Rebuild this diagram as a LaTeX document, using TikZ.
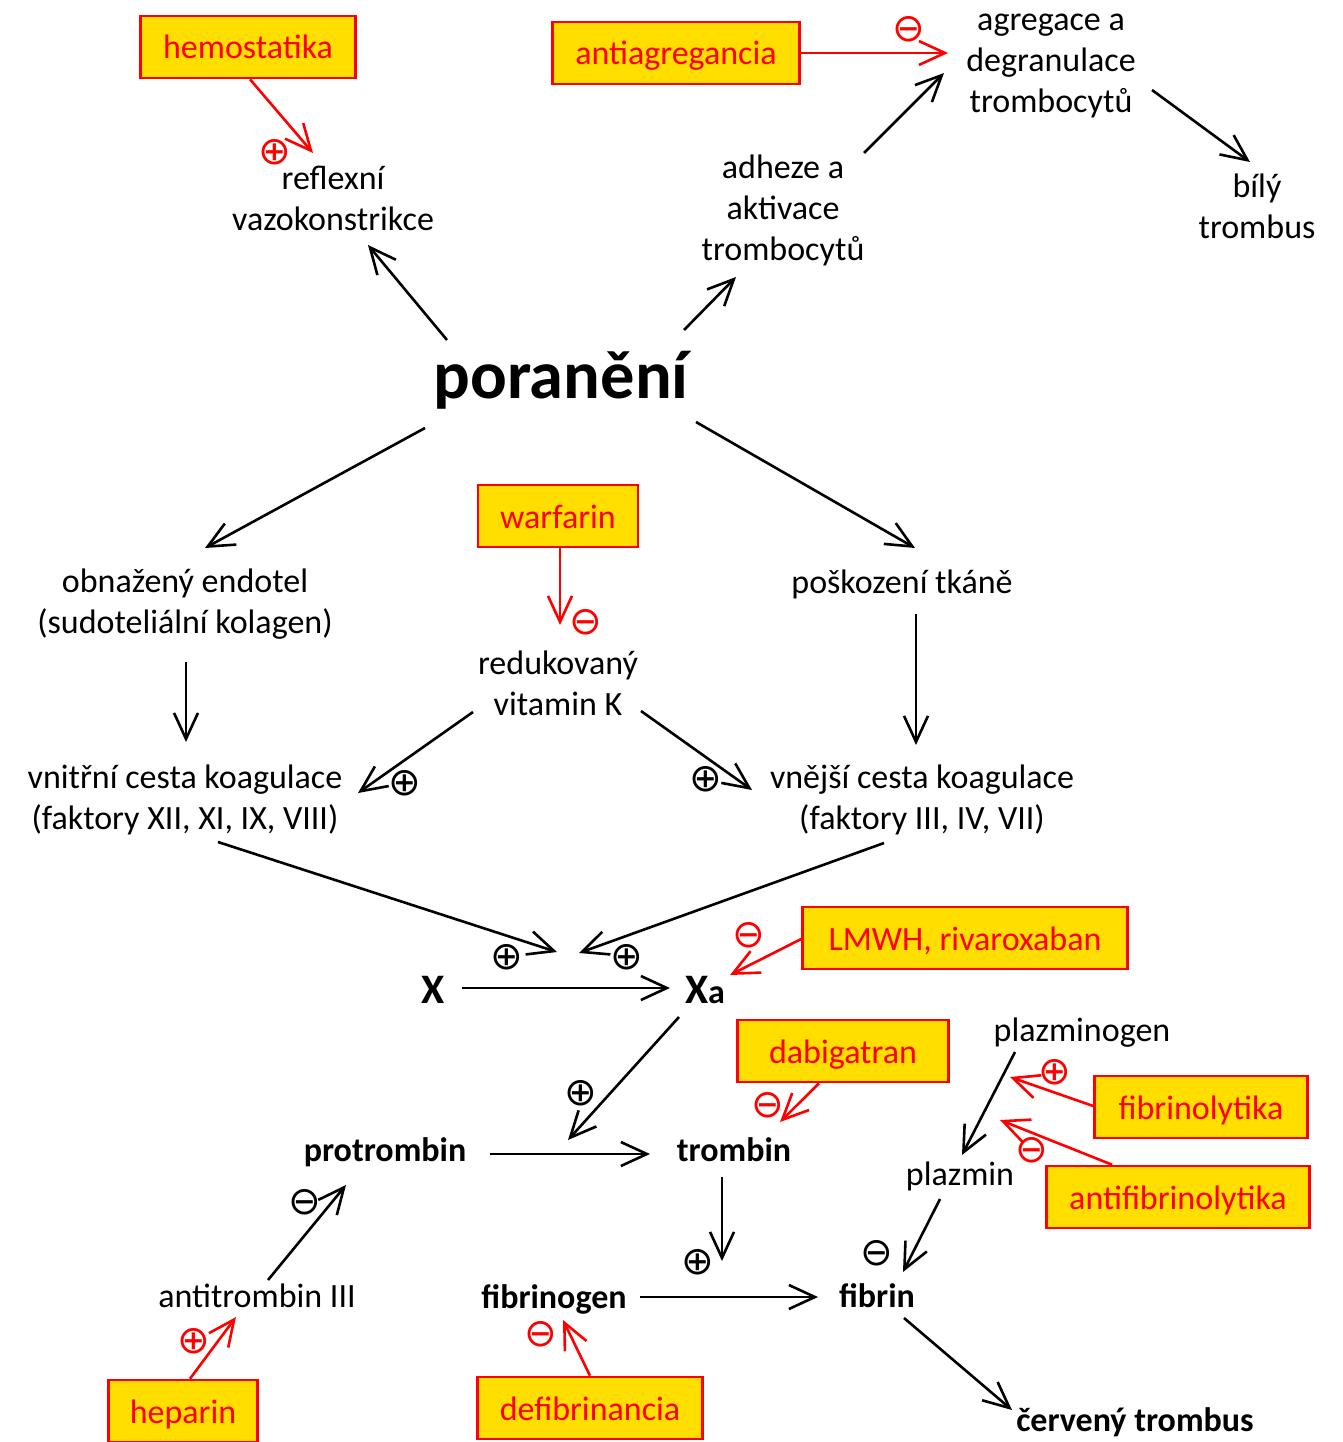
\documentclass[tikz,border=0pt]{standalone}
\usepackage{fontspec}
\setmainfont{Carlito}
\newfontfamily\symfont{DejaVu Sans}
\usetikzlibrary{arrows.meta,calc}
\definecolor{boxyellow}{RGB}{255,222,0}
\definecolor{boxred}{RGB}{255,0,0}
\begin{document}
\begin{tikzpicture}[x=1pt,y=-1pt,
  lbl/.style={align=center,font=\fontsize{34}{41}\selectfont,inner sep=0pt},
  blbl/.style={align=center,font=\fontsize{34}{41}\selectfont\bfseries,inner sep=0pt},
  drug/.style={draw=boxred,line width=2.6pt,fill=boxyellow,text=boxred,
    font=\fontsize{34}{41}\selectfont,minimum height=62pt,inner sep=0pt,
    text height=24pt,text depth=0pt},
  arr/.style={line width=2.6pt,-{Straight Barb[length=26pt,width=24pt]}},
  rarr/.style={arr,draw=boxred},
  sgn/.style={font=\symfont\fontsize{39}{39}\selectfont,inner sep=0pt},
  rsgn/.style={sgn,text=boxred}]
\useasboundingbox (0,0) rectangle (1342,1442);

% text nodes
\node[lbl] (refl) at (333,198) {reflexní\\vazokonstrikce};
\node[lbl] (adh) at (783,210) {adheze a\\aktivace\\trombocytů};
\node[lbl] (agr) at (1051,66) {agregace a\\degranulace\\trombocytů};
\node[lbl] (bily) at (1257,206) {bílý\\trombus};
\node[inner sep=0pt,font=\fontsize{68.5}{80}\selectfont\bfseries] (por) at (561,380) {poranění};
\node[lbl] (obn) at (185,604) {obnažený endotel\\(sudoteliální kolagen)};
\node[lbl] (posk) at (902,584) {poškození tkáně};
\node[lbl] (red) at (558,683) {redukovaný\\vitamin K};
\node[lbl] (vnitr) at (185,800) {vnitřní cesta koagulace\\(faktory XII, XI, IX, VIII)};
\node[lbl] (vnej) at (922,800) {vnější cesta koagulace\\(faktory III, IV, VII)};
\node[inner sep=0pt,font=\fontsize{42}{50}\selectfont\bfseries] (X) at (433,990) {X};
\node[inner sep=0pt,font=\fontsize{42}{50}\selectfont\bfseries] (Xa) at (705,990) {X{\fontsize{34}{41}\selectfont a}};
\node[blbl] (protr) at (385,1152) {protrombin};
\node[blbl] (tromb) at (734,1150) {trombin};
\node[lbl] (plg) at (1082,1033) {plazminogen};
\node[lbl] (plm) at (960,1176) {plazmin};
\node[lbl] (at3) at (257,1296) {antitrombin III};
\node[blbl] (fbg) at (554,1299) {fibrinogen};
\node[blbl] (fbn) at (877,1296) {fibrin};
\node[blbl] (cerv) at (1135,1422) {červený trombus};

% drug boxes
\node[drug,minimum width=215pt] (hemo) at (248,47) {hemostatika};
\node[drug,minimum width=247pt] (antiag) at (676,53) {antiagregancia};
\node[drug,minimum width=160pt] (warf) at (558,516) {warfarin};
\node[drug,minimum width=325pt] (lmwh) at (965,938) {LMWH, rivaroxaban};
\node[drug,minimum width=211pt] (dabi) at (843,1051) {dabigatran};
\node[drug,minimum width=213pt] (fibl) at (1201,1107) {fibrinolytika};
\node[drug,minimum width=263pt] (antifib) at (1178,1197) {antifibrinolytika};
\node[drug,minimum width=149pt] (hep) at (183,1411) {heparin};
\node[drug,minimum width=225pt] (defib) at (590,1408) {defibrinancia};

% free ends
\coordinate (conv1) at (557,952);
\coordinate (conv2) at (579,953);
\coordinate (ptarr) at (568,1140);
\coordinate (fbarr) at (722,1261);
\coordinate (plgarr1) at (1010,1077);
\coordinate (plgarr2) at (1000,1120);

% black arrows
\draw[arr] ($(por)+(-114,-40)$) -- ($(refl)+(35,47)$);
\draw[arr] ($(por)+(123,-50)$) -- ($(adh)+(-47,67)$);
\draw[arr] ($(adh)+(81,-57)$) -- ($(agr)+(-107,7)$);
\draw[arr] ($(agr)+(101,24)$) -- ($(bily)+(-7,-44)$);
\draw[arr] ($(por)+(-136,48)$) -- ($(obn)+(20,-56)$);
\draw[arr] ($(por)+(135,42)$) -- ($(posk)+(13,-36)$);
\draw[arr] ($(obn)+(1,58)$) -- ($(vnitr)+(1,-58)$);
\draw[arr] ($(posk)+(14,30)$) -- ($(vnej)+(-6,-55)$);
\draw[arr] ($(red)+(-85,29)$) -- ($(vnitr)+(173,-7)$);
\draw[arr] ($(red)+(83,28)$) -- ($(vnej)+(-170,-10)$);
\draw[arr] ($(vnitr)+(33,42)$) -- (conv1);
\draw[arr] ($(vnej)+(-38,43)$) -- (conv2);
\draw[arr] ($(X)+(29,-2)$) -- ($(Xa)+(-35,-2)$);
\draw[arr] ($(Xa)+(-26,27)$) -- (ptarr);
\draw[arr] ($(protr)+(105,2)$) -- ($(tromb)+(-84,4)$);
\draw[arr] ($(tromb)+(-12,27)$) -- (fbarr);
\draw[arr] ($(fbg)+(86,-2)$) -- ($(fbn)+(-59,1)$);
\draw[arr] ($(fbn)+(27,22)$) -- ($(cerv)+(-123,-12)$);
\draw[arr] ($(plg)+(-67,19)$) -- ($(plm)+(2,-21)$);
\draw[arr] ($(plm)+(-20,23)$) -- ($(fbn)+(26,-24)$);
\draw[arr] ($(at3)+(11,-16)$) -- ($(protr)+(-39,33)$);

% red arrows
\draw[rarr] ($(hemo.south)+(2,0)$) -- ($(refl)+(-20,-45)$);
\draw[rarr] (antiag.east) -- ($(agr)+(-103,-13)$);
\draw[rarr] ($(warf.south)+(2,0)$) -- ($(red)+(2,-58)$);
\draw[rarr] ($(lmwh.west)+(0,1)$) -- ($(Xa)+(25,-15)$);
\draw[rarr] ($(dabi.south)+(-24,0)$) -- ($(tromb)+(46,-28)$);
\draw[rarr] ($(fibl.west)+(0,-1)$) -- (plgarr1);
\draw[rarr] ($(antifib.north)+(-66,0)$) -- (plgarr2);
\draw[rarr] ($(hep.north)+(7,0)$) -- ($(at3)+(-21,21)$);
\draw[rarr] (defib.north) -- ($(fbg)+(9,21)$);

% signs
\node[sgn] (s1) at (405,783) {⊕};
\node[sgn] (s2) at (706,779) {⊕};
\node[sgn] (s3) at (507,957) {⊕};
\node[sgn] (s4) at (627,957) {⊕};
\node[sgn] (s5) at (581,1093) {⊕};
\node[sgn] (s6) at (698,1262) {⊕};
\node[sgn] (s7) at (305,1202) {⊖};
\node[sgn] (s8) at (877,1253) {⊖};
\node[rsgn] (r1) at (275,152) {⊕};
\node[rsgn] (r2) at (1055,1072) {⊕};
\node[rsgn] (r3) at (194,1341) {⊕};
\node[rsgn] (r4) at (909,29) {⊖};
\node[rsgn] (r5) at (586,622) {⊖};
\node[rsgn] (r6) at (749,935) {⊖};
\node[rsgn] (r7) at (768,1105) {⊖};
\node[rsgn] (r8) at (1032,1150) {⊖};
\node[rsgn] (r9) at (541,1334) {⊖};
\end{tikzpicture}
\end{document}
